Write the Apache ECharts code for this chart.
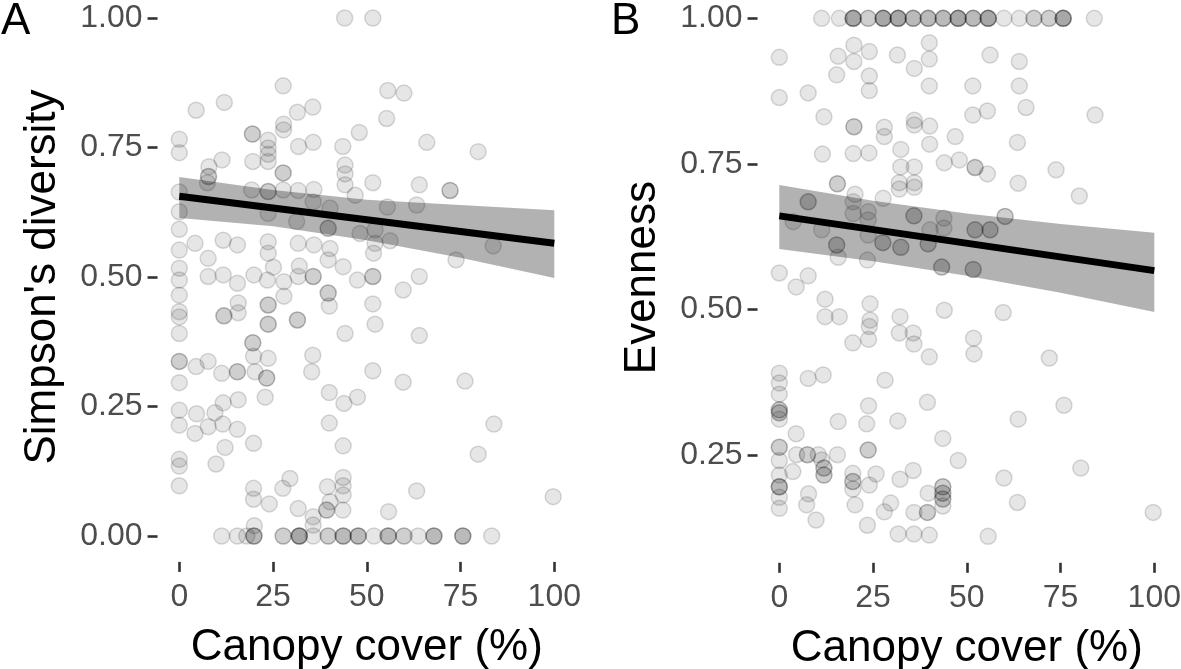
<!DOCTYPE html>
<html>
<head>
<meta charset="utf-8">
<script src="https://cdn.jsdelivr.net/npm/echarts@6/dist/echarts.min.js"></script>
<style>
html,body{margin:0;padding:0;background:#fff;}
#chart{width:1181px;height:669px;}
</style>
</head>
<body>
<div id="chart"></div>
<script>
// ---------- DATA ----------
const canopyTicks = [0, 25, 50, 75, 100];
const simpsonTicks = [0, 0.25, 0.5, 0.75, 1];
const evennessTicks = [0.25, 0.5, 0.75, 1];

// Panel A: [canopy cover %, Simpson's diversity]
const simpsonPoints = [
[44.1,1.0],[51.6,1.0],[27.7,0.869],[55.6,0.86],[59.9,0.855],[4.5,0.822],[12.0,0.837],[31.5,0.818],[35.6,0.828],[55.3,0.806],
[27.8,0.795],[27.8,0.784],[19.5,0.776],[19.5,0.776],[48.0,0.779],[0,0.766],[0,0.74],[23.7,0.764],[23.7,0.749],[23.7,0.737],
[23.7,0.723],[31.8,0.752],[35.7,0.76],[43.6,0.752],[66.0,0.76],[79.7,0.742],[11.4,0.726],[19.6,0.723],[7.9,0.713],[7.8,0.694],
[7.8,0.694],[7.5,0.682],[27.7,0.701],[27.7,0.701],[44.2,0.716],[44.2,0.699],[44.2,0.678],[51.6,0.682],[64.0,0.678],[72.2,0.667],
[72.2,0.667],[0,0.664],[46.9,0.658],[19.3,0.668],[23.7,0.665],[23.7,0.665],[27.7,0.668],[31.7,0.667],[35.9,0.669],[35.7,0.645],
[0,0.626],[23.7,0.623],[40.2,0.633],[55.5,0.635],[63.3,0.639],[31.3,0.607],[39.7,0.594],[39.7,0.594],[48.2,0.584],[52.2,0.591],
[56.2,0.57],[52.2,0.565],[83.7,0.56],[0,0.592],[0,0.552],[4.2,0.565],[11.7,0.571],[15.5,0.562],[23.7,0.568],[23.7,0.546],
[31.7,0.565],[35.9,0.562],[40.2,0.555],[39.7,0.533],[51.8,0.546],[73.8,0.533],[7.7,0.536],[0,0.517],[0,0.494],[0,0.465],
[0,0.433],[0,0.423],[0,0.391],[0,0.337],[0,0.337],[7.7,0.501],[11.7,0.504],[15.5,0.488],[19.9,0.504],[23.5,0.494],
[25.1,0.519],[27.9,0.491],[27.9,0.463],[32.0,0.521],[31.7,0.501],[35.7,0.501],[35.7,0.501],[43.7,0.52],[47.5,0.494],[51.6,0.501],
[51.6,0.501],[59.7,0.475],[64.0,0.501],[39.7,0.469],[39.7,0.469],[40.0,0.444],[51.6,0.448],[15.7,0.45],[15.7,0.431],[11.9,0.425],
[11.9,0.425],[23.7,0.446],[23.7,0.446],[23.7,0.409],[23.7,0.409],[31.5,0.417],[31.5,0.417],[44.2,0.391],[52.2,0.409],[64.0,0.387],
[19.6,0.373],[19.6,0.373],[19.8,0.347],[23.7,0.343],[35.6,0.349],[4.5,0.327],[7.7,0.337],[11.3,0.314],[15.5,0.317],[15.5,0.317],
[20.2,0.317],[23.3,0.305],[23.3,0.305],[35.3,0.317],[51.6,0.319],[59.7,0.297],[76.2,0.299],[0,0.296],[40.0,0.277],[43.9,0.256],
[47.5,0.268],[22.9,0.268],[15.7,0.263],[11.7,0.257],[0,0.243],[4.6,0.236],[9.5,0.238],[0,0.214],[7.7,0.211],[11.6,0.216],
[15.5,0.206],[4.2,0.198],[40.0,0.218],[83.9,0.216],[19.8,0.179],[12.2,0.171],[43.7,0.174],[79.7,0.158],[0,0.148],[0,0.135],
[9.8,0.139],[0,0.097],[29.5,0.111],[19.8,0.092],[19.8,0.071],[27.6,0.092],[24.0,0.062],[39.5,0.095],[43.7,0.113],[43.7,0.097],
[43.7,0.079],[43.6,0.05],[40.2,0.066],[39.3,0.05],[39.3,0.05],[31.7,0.053],[35.7,0.037],[35.7,0.021],[55.8,0.047],[63.3,0.087],
[99.7,0.076],[20.0,0.02],
[11.3,0],[15.5,0],[18.0,0],[19.9,0],[19.9,0],[19.9,0],[27.7,0],[27.7,0],[32.0,0],[32.0,0],[32.0,0],[32.0,0],[35.7,0],[39.7,0],
[39.7,0],[43.7,0],[43.7,0],[43.7,0],[47.7,0],[47.7,0],[47.7,0],[51.9,0],[55.7,0],[55.7,0],[55.7,0],[59.9,0],[59.9,0],[63.7,0],
[67.9,0],[67.9,0],[67.9,0],[75.6,0],[75.6,0],[75.6,0],[83.3,0]
];

// Panel B: [canopy cover %, Evenness]
const evennessPoints = [
[11.3,1],[16.0,1],[19.7,1],[19.7,1],[19.7,1],[19.7,1],[23.7,1],[23.7,1],[27.7,1],[27.7,1],[27.7,1],[27.7,1],[31.7,1],[31.7,1],
[31.7,1],[31.7,1],[35.7,1],[35.7,1],[35.7,1],[39.7,1],[39.7,1],[39.7,1],[43.7,1],[43.7,1],[43.7,1],[47.7,1],[47.7,1],[47.7,1],
[47.7,1],[51.7,1],[51.7,1],[51.7,1],[55.7,1],[55.7,1],[55.7,1],[55.7,1],[59.9,1],[64.0,1],[67.9,1],[67.9,1],[71.9,1],[71.9,1],
[75.7,1],[75.7,1],[75.7,1],[75.7,1],[84.0,1],
[0,0.933],[0,0.864],[7.7,0.872],[15.7,0.935],[19.9,0.954],[19.9,0.926],[24.0,0.943],[15.3,0.903],[24.0,0.901],[24.0,0.876],
[31.5,0.937],[40.0,0.958],[40.0,0.93],[36.0,0.914],[56.2,0.937],[64.0,0.926],[40.0,0.884],[51.6,0.884],[64.0,0.884],
[11.9,0.831],[19.9,0.814],[19.9,0.814],[28.0,0.813],[28.0,0.797],[36.0,0.825],[36.0,0.817],[40.1,0.815],[40.1,0.784],[46.9,0.797],
[51.6,0.834],[55.5,0.841],[65.8,0.847],[84.2,0.834],[63.5,0.787],
[11.5,0.767],[19.7,0.768],[23.9,0.769],[32.4,0.775],[32.4,0.745],[36.0,0.745],[44.0,0.752],[48.0,0.757],[52.2,0.744],[52.2,0.744],
[55.5,0.733],[73.8,0.74],[15.5,0.716],[15.5,0.716],[32.0,0.718],[32.0,0.707],[36.0,0.718],[36.0,0.71],[63.7,0.717],[80.0,0.695],
[20.2,0.698],[27.7,0.691],
[7.7,0.685],[7.7,0.685],[3.7,0.651],[11.3,0.637],[19.7,0.685],[19.7,0.665],[23.7,0.668],[23.7,0.654],[23.7,0.628],[27.6,0.615],
[27.6,0.615],[32.4,0.607],[32.4,0.607],[35.9,0.661],[35.9,0.661],[40.2,0.637],[39.7,0.613],[39.7,0.613],[43.9,0.657],[43.9,0.64],
[52.2,0.637],[52.2,0.637],[56.2,0.637],[56.2,0.637],[60.2,0.66],[60.2,0.66],[15.3,0.611],[15.3,0.611],[15.7,0.59],[23.5,0.585],
[43.3,0.573],[43.3,0.573],[51.7,0.569],[51.7,0.569],[0,0.563],[7.7,0.558],[4.5,0.539],[12.2,0.518],[12.2,0.488],[16.0,0.488],
[24.2,0.51],[24.2,0.482],[24.0,0.471],[23.8,0.449],[19.6,0.443],[32.2,0.488],[32.0,0.46],[35.7,0.46],[35.9,0.441],[40.0,0.419],
[44.0,0.499],[51.8,0.451],[51.9,0.424],[59.7,0.495],[72.0,0.417],
[0,0.391],[7.7,0.382],[11.7,0.388],[28.2,0.379],
[0,0.374],[0,0.355],[0,0.328],[0,0.328],[0,0.323],[0,0.323],[0,0.312],[4.5,0.287],[15.7,0.308],[23.8,0.335],[23.3,0.304],
[31.6,0.309],[39.5,0.341],[43.6,0.279],[63.7,0.312],[75.9,0.336],[0,0.264],[0,0.264],[0,0.241],[0,0.216],[0,0.196],[0,0.196],
[0,0.196],[0,0.178],[0,0.159],[4.6,0.251],[7.5,0.251],[7.5,0.251],[10.4,0.251],[3.6,0.222],[11.3,0.242],[11.9,0.228],[11.9,0.228],
[11.9,0.216],[11.9,0.216],[15.5,0.251],[7.8,0.184],[7.3,0.165],[9.8,0.139],[23.7,0.259],[23.7,0.259],[19.6,0.219],[19.6,0.205],
[19.6,0.205],[19.6,0.192],[24.0,0.199],[25.8,0.218],[20.2,0.165],[23.5,0.13],[28.0,0.153],[29.7,0.168],[32.2,0.209],[35.7,0.224],
[35.9,0.152],[39.5,0.152],[39.5,0.152],[39.7,0.185],[43.6,0.196],[43.6,0.196],[43.6,0.185],[43.6,0.185],[43.6,0.175],[43.6,0.175],
[43.6,0.163],[47.7,0.241],[59.9,0.211],[63.5,0.169],[80.4,0.228],[99.7,0.152],[31.7,0.115],[35.9,0.115],[40.0,0.113],[55.7,0.111]
];

// Fitted lines and confidence bands
const fitX = [0, 100];
const fitSimpson = [0.656, 0.565];
const fitEvenness = [0.661, 0.567];
const bandX = [0, 25, 50, 75, 100];
const bandLowSimpson = [0.614, 0.598, 0.571, 0.537, 0.498];
const bandHighSimpson = [0.693, 0.668, 0.649, 0.639, 0.629];
const bandLowEvenness = [0.604, 0.583, 0.558, 0.529, 0.496];
const bandHighEvenness = [0.714, 0.687, 0.665, 0.647, 0.632];

// ---------- CHART ----------
const FONT = "'Liberation Sans', Arial, Helvetica, sans-serif";
const chart = echarts.init(document.getElementById('chart'), null, {renderer: 'canvas'});

function xAxisDef(gi) {
  return {
    type: 'value', gridIndex: gi, min: -5, max: 105,
    splitLine: {show: false},
    axisLine: {show: false, onZero: false},
    axisTick: {show: true, length: 10, lineStyle: {color: '#333', width: 2.6}, customValues: canopyTicks},
    axisLabel: {customValues: canopyTicks, fontSize: 32, color: '#4d4d4d', margin: 19, fontFamily: FONT},
    name: 'Canopy cover (%)', nameLocation: 'middle', nameGap: 64,
    nameTextStyle: {fontSize: 44, color: '#000', fontFamily: FONT}
  };
}
function yAxisDef(gi, min, max, ticks, name) {
  return {
    type: 'value', gridIndex: gi, min: min, max: max, offset: 3,
    splitLine: {show: false},
    axisLine: {show: false, onZero: false},
    axisTick: {show: true, length: 10, lineStyle: {color: '#333', width: 2.6}, customValues: ticks},
    axisLabel: {customValues: ticks, fontSize: 32, color: '#4d4d4d', margin: 15, fontFamily: FONT,
      formatter: v => Number(v).toFixed(2)},
    name: name, nameLocation: 'middle', nameGap: 93,
    nameTextStyle: {fontSize: 44, color: '#000', fontFamily: FONT}
  };
}
function bandSeries(gi, lo, hi) {
  return {
    type: 'custom', xAxisIndex: gi, yAxisIndex: gi, z: 3, silent: true,
    data: bandX.map((x, i) => [x, lo[i], hi[i]]),
    encode: {x: 0, y: [1, 2]},
    renderItem: function (params, api) {
      if (params.dataIndex !== 0) return null;
      const top = bandX.map((x, i) => api.coord([x, hi[i]]));
      const bot = bandX.map((x, i) => api.coord([x, lo[i]])).reverse();
      return {type: 'polygon', shape: {points: top.concat(bot)}, style: {fill: 'rgba(0,0,0,0.30)'}};
    }
  };
}
function pointSeries(gi, data) {
  return {
    type: 'scatter', xAxisIndex: gi, yAxisIndex: gi, z: 2, silent: true,
    symbol: 'circle', symbolSize: 16, clip: false,
    itemStyle: {color: 'rgba(0,0,0,0.12)', borderColor: 'rgba(0,0,0,0.18)', borderWidth: 1.5},
    data: data
  };
}
function fitSeries(gi, ys) {
  return {
    type: 'line', xAxisIndex: gi, yAxisIndex: gi, z: 4, silent: true,
    symbol: 'none', lineStyle: {color: '#000', width: 7},
    data: fitX.map((x, i) => [x, ys[i]])
  };
}

chart.setOption({
  animation: false,
  backgroundColor: '#fff',
  grid: [
    {left: 160.55, top: -7.9, width: 412.5, height: 569.8, containLabel: false, outerBoundsMode: 'none'},
    {left: 760.55, top: -7.6, width: 412.5, height: 570.4, containLabel: false, outerBoundsMode: 'none'}
  ],
  xAxis: [xAxisDef(0), xAxisDef(1)],
  yAxis: [
    yAxisDef(0, -0.05, 1.05, simpsonTicks, "Simpson's diversity"),
    yAxisDef(1, 0.0655, 1.0445, evennessTicks, 'Evenness')
  ],
  graphic: [
    {type: 'text', left: 1, top: 0, style: {text: 'A', fontSize: 44, fontFamily: FONT, fill: '#000'}},
    {type: 'text', left: 611, top: 0, style: {text: 'B', fontSize: 44, fontFamily: FONT, fill: '#000'}}
  ],
  series: [
    pointSeries(0, simpsonPoints),
    bandSeries(0, bandLowSimpson, bandHighSimpson),
    fitSeries(0, fitSimpson),
    pointSeries(1, evennessPoints),
    bandSeries(1, bandLowEvenness, bandHighEvenness),
    fitSeries(1, fitEvenness)
  ]
});
</script>
</body>
</html>
